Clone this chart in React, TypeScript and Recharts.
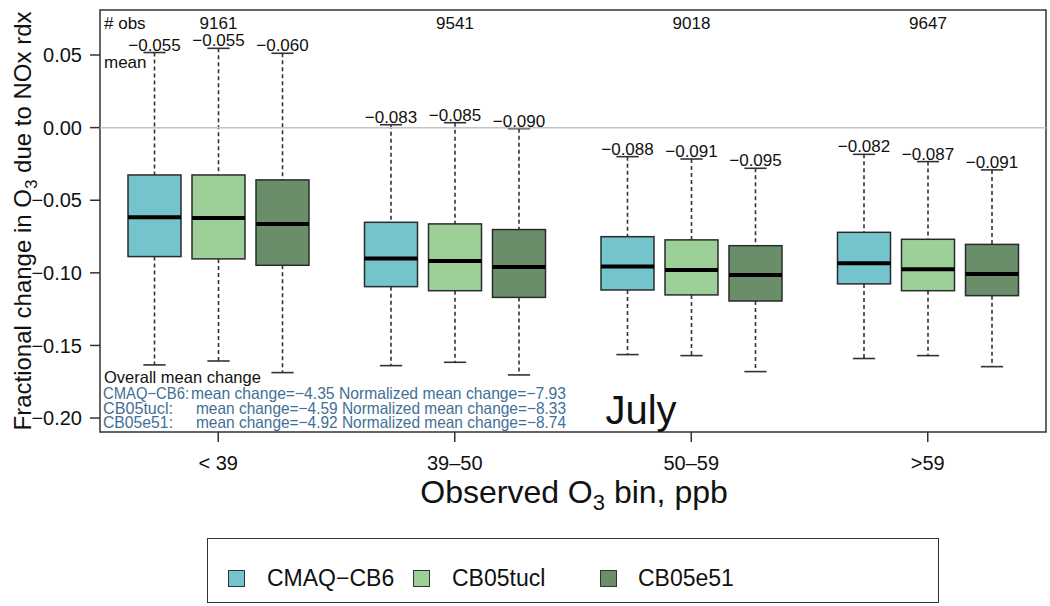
import React from 'react';
import { ComposedChart, Bar, XAxis, YAxis, ReferenceLine, ReferenceArea } from 'recharts';

const bins = ['< 39', '39–50', '50–59', '>59'];
const obsCounts = [9161, 9541, 9018, 9647];
const seriesNames = ['CMAQ−CB6', 'CB05tucl', 'CB05e51'];
const seriesColors = ['#74c4ce', '#9dcf99', '#6a8e69'];

// box stats per bin
const cmaqLow = [-0.1634, -0.1639, -0.1563, -0.159];
const cmaqQ1 = [-0.0888, -0.1095, -0.1118, -0.1076];
const cmaqMed = [-0.0618, -0.0902, -0.0957, -0.0934];
const cmaqQ3 = [-0.0326, -0.0652, -0.0751, -0.0721];
const cmaqHigh = [0.0517, 0.002, -0.02, -0.0184];
const cmaqMean = [-0.055, -0.083, -0.088, -0.082];

const tuclLow = [-0.1607, -0.1616, -0.157, -0.157];
const tuclQ1 = [-0.0904, -0.1123, -0.1152, -0.1123];
const tuclMed = [-0.0622, -0.0918, -0.098, -0.0976];
const tuclQ3 = [-0.0326, -0.0663, -0.0773, -0.0769];
const tuclHigh = [0.0546, 0.0034, -0.0216, -0.0234];
const tuclMean = [-0.055, -0.085, -0.091, -0.087];

const e51Low = [-0.1687, -0.1703, -0.168, -0.1646];
const e51Q1 = [-0.0948, -0.1169, -0.1194, -0.1157];
const e51Med = [-0.0664, -0.0959, -0.1015, -0.1008];
const e51Q3 = [-0.036, -0.0702, -0.0813, -0.0804];
const e51High = [0.0512, -0.0007, -0.028, -0.0291];
const e51Mean = [-0.06, -0.09, -0.095, -0.091];

const yTicks = [0.05, 0, -0.05, -0.1, -0.15, -0.2];
const Y_MIN = -0.2096;
const Y_MAX = 0.081;

const summaryLabels = ['CMAQ−CB6:', 'CB05tucl:', 'CB05e51:'];
const summaryMeanChange = ['−4.35', '−4.59', '−4.92'];
const summaryNormChange = ['−7.93', '−8.33', '−8.74'];

const statSets = [
  [cmaqLow, cmaqQ1, cmaqMed, cmaqQ3, cmaqHigh, cmaqMean],
  [tuclLow, tuclQ1, tuclMed, tuclQ3, tuclHigh, tuclMean],
  [e51Low, e51Q1, e51Med, e51Q3, e51High, e51Mean],
];

const rows = bins.map((bin, i) => ({
  bin,
  obs: obsCounts[i],
  stats: statSets.map(([lo, q1, med, q3, hi, mean]) => ({
    lo: lo[i], q1: q1[i], med: med[i], q3: q3[i], hi: hi[i], mean: mean[i],
  })),
}));

const FONT = '"Liberation Sans", Arial, Helvetica, sans-serif';
const fmt = (v: number) => (v < 0 ? '\u2212' : '') + Math.abs(v).toFixed(2);
const fmt3 = (v: number) => (v < 0 ? '\u2212' : '') + Math.abs(v).toFixed(3);

const BoxShape = (props: any) => {
  const { x, y, width, height, payload, s, fill } = props;
  const st = payload.stats[s];
  const top = Math.min(y, y + height);
  const h = Math.abs(height);
  // pixel per data unit, taken from the bar the library laid out
  const k = h / (st.q3 - st.q1);
  const py = (v: number) => top + (st.q3 - v) * k;
  const cx = x + width / 2;
  const cap = width * 0.21;
  return (
    <g>
      <line x1={cx} x2={cx} y1={py(st.hi)} y2={py(st.q3)} stroke="#333" strokeWidth={1.6} strokeDasharray="4 3" />
      <line x1={cx} x2={cx} y1={py(st.q1)} y2={py(st.lo)} stroke="#333" strokeWidth={1.6} strokeDasharray="4 3" />
      <line x1={cx - cap} x2={cx + cap} y1={py(st.hi)} y2={py(st.hi)} stroke="#333" strokeWidth={1.6} />
      <line x1={cx - cap} x2={cx + cap} y1={py(st.lo)} y2={py(st.lo)} stroke="#333" strokeWidth={1.6} />
      <rect x={x} y={top} width={width} height={h} fill={fill} stroke="#2b2b2b" strokeWidth={1.5} />
      <line x1={x} x2={x + width} y1={py(st.med)} y2={py(st.med)} stroke="#000" strokeWidth={4} />
      <text x={cx} y={py(st.hi) - 2} textAnchor="middle" fontSize={17} fill="#111" fontFamily={FONT}>
        {fmt3(st.mean)}
      </text>
      {s === 1 && (
        <text x={cx} y={py(Y_MAX) + 19} textAnchor="middle" fontSize={17} fill="#111" fontFamily={FONT}>
          {payload.obs}
        </text>
      )}
    </g>
  );
};

const legendPos = [
  { sw: 228, tx: 267 },
  { sw: 413, tx: 452 },
  { sw: 600, tx: 638 },
];
const labelWidths = [86, 70, 70];

export default function App() {
  return (
    <div style={{ position: 'absolute', left: 0, top: 0, width: 1050, height: 606, background: '#fff', fontFamily: FONT }}>
      <ComposedChart
        width={1050}
        height={606}
        data={rows}
        margin={{ top: 10, right: 4, left: 0, bottom: 114 }}
        barGap={11}
      >
        <XAxis
          dataKey="bin"
          height={60}
          axisLine={false}
          tickSize={10}
          tickMargin={14}
          tickLine={{ stroke: '#333', strokeWidth: 1.5 }}
          tick={{ fontSize: 20, fill: '#111', fontFamily: FONT }}
          interval={0}
        />
        <YAxis
          type="number"
          domain={[Y_MIN, Y_MAX]}
          allowDataOverflow
          ticks={yTicks}
          tickFormatter={fmt}
          width={100}
          axisLine={false}
          tickSize={10}
          tickMargin={8}
          tickLine={{ stroke: '#333', strokeWidth: 1.5 }}
          tick={{ fontSize: 20, fill: '#111', fontFamily: FONT }}
        />
        <ReferenceLine y={0} stroke="#c4c4c4" strokeWidth={1.5} />
        {seriesNames.map((name, s) => (
          <Bar
            key={name}
            name={name}
            dataKey={(d: any) => [d.stats[s].q1, d.stats[s].q3]}
            fill={seriesColors[s]}
            barSize={53}
            isAnimationActive={false}
            shape={(p: any) => <BoxShape {...p} s={s} fill={seriesColors[s]} />}
          />
        ))}
        <ReferenceArea y1={Y_MIN} y2={Y_MAX} fill="none" fillOpacity={0} stroke="#333" strokeWidth={1.5} />
      </ComposedChart>

      <svg
        width={1050}
        height={606}
        style={{ position: 'absolute', left: 0, top: 0, pointerEvents: 'none' }}
        fontFamily={FONT}
      >
        <text x={104} y={29} fontSize={17} fill="#111"># obs</text>
        <text x={104} y={68} fontSize={17} fill="#111">mean</text>
        <text x={104} y={383} fontSize={16.5} fill="#111">Overall mean change</text>
        {summaryLabels.map((lab, i) => (
          <g key={lab}>
            <text
              x={103} y={399 + i * 14.5} fontSize={16.5} fill="#3f6f96"
              textLength={labelWidths[i]} lengthAdjust="spacingAndGlyphs"
            >
              {lab}
            </text>
            <text
              x={i === 0 ? 191 : 196} y={399 + i * 14.5} fontSize={16.5} fill="#3f6f96"
              textLength={i === 0 ? 375 : 370} lengthAdjust="spacingAndGlyphs"
            >
              {`mean change=${summaryMeanChange[i]} Normalized mean change=${summaryNormChange[i]}`}
            </text>
          </g>
        ))}
        <text x={641} y={424} fontSize={40} textAnchor="middle" fill="#111">July</text>
        <text x={574} y={503} fontSize={32} textAnchor="middle" fill="#111">
          Observed O<tspan fontSize={22} dy={7}>3</tspan><tspan dy={-7}> bin, ppb</tspan>
        </text>
        <text transform="translate(31,221) rotate(-90)" fontSize={24} textAnchor="middle" fill="#111">
          Fractional change in O<tspan fontSize={17} dy={6}>3</tspan><tspan dy={-6}> due to NOx rdx</tspan>
        </text>
      </svg>

      <div
        style={{
          position: 'absolute', left: 207, top: 538, width: 732, height: 65,
          border: '1.5px solid #333', boxSizing: 'border-box',
        }}
      >
        {seriesNames.map((name, s) => (
          <React.Fragment key={name}>
            <div
              style={{
                position: 'absolute', left: legendPos[s].sw - 208, top: 31, width: 17, height: 17,
                background: seriesColors[s], border: '1px solid #333', boxSizing: 'border-box',
              }}
            />
            <div
              style={{
                position: 'absolute', left: legendPos[s].tx - 208, top: 24, fontSize: 23,
                lineHeight: '30px', color: '#111', whiteSpace: 'nowrap',
              }}
            >
              {name}
            </div>
          </React.Fragment>
        ))}
      </div>
    </div>
  );
}
